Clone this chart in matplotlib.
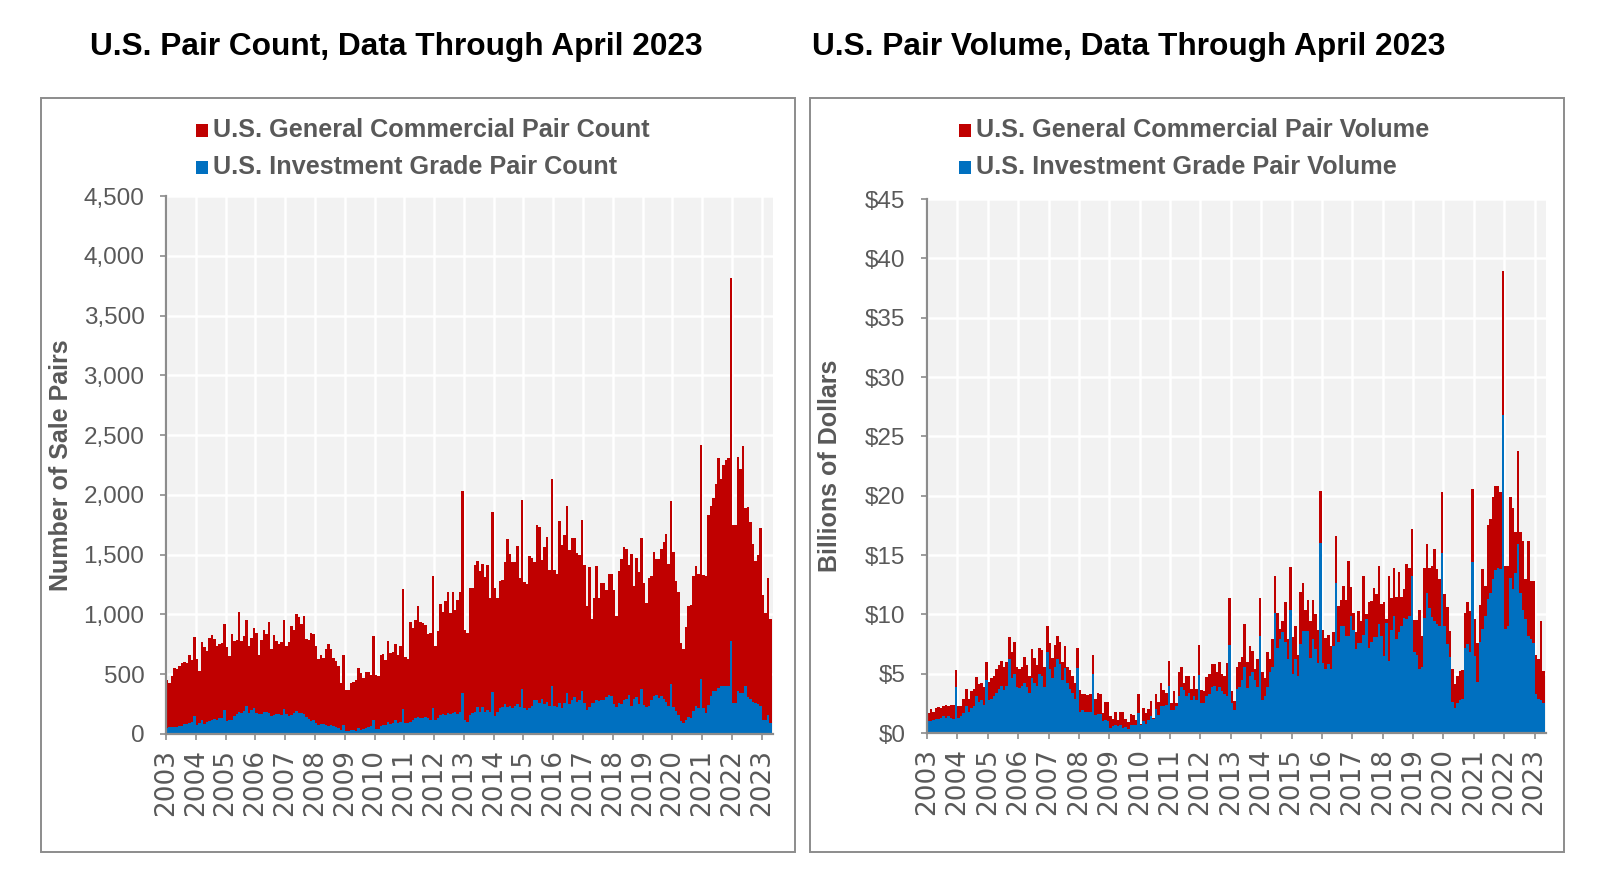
import numpy as np
import matplotlib
matplotlib.use("Agg")
import matplotlib.pyplot as plt
from matplotlib.patches import Rectangle
from matplotlib.ticker import FuncFormatter, MultipleLocator, FixedLocator

plt.rcParams['font.family'] = ['Liberation Sans', 'DejaVu Sans']

# ---------------- data (monthly, Jan 2003 .. Apr 2023) ----------------
years = list(range(2003, 2024))

gc_count = [
    449, 427, 483, 550, 544, 566, 594, 605, 594, 661, 622, 812,      # 2003
    628, 524, 773, 728, 695, 806, 829, 795, 734, 751, 762, 923,      # 2004
    728, 656, 834, 778, 790, 1024, 778, 823, 957, 739, 806, 890,     # 2005
    845, 661, 790, 873, 834, 940, 711, 829, 778, 756, 773, 957,      # 2006
    734, 767, 907, 873, 1002, 979, 918, 990, 795, 790, 845, 840,     # 2007
    734, 628, 661, 633, 711, 751, 711, 633, 611, 566, 427, 661,      # 2008
    365, 365, 427, 432, 449, 555, 511, 466, 522, 516, 494, 817,      # 2009
    494, 488, 661, 672, 622, 778, 678, 689, 756, 661, 734, 1214,     # 2010
    644, 628, 935, 884, 957, 1069, 935, 929, 912, 834, 845, 1325,    # 2011
    734, 862, 1085, 1024, 1113, 1186, 1013, 1186, 1035, 1124, 1186, 2034,  # 2012
    873, 845, 1219, 1219, 1417, 1445, 1361, 1423, 1311, 1415, 1141, 1861,  # 2013
    1219, 1136, 1281, 1286, 1437, 1632, 1504, 1442, 1442, 1576, 1309, 1961,  # 2014
    1275, 1258, 1493, 1476, 1442, 1749, 1733, 1459, 1560, 1649, 1375, 2129,  # 2015
    1370, 1342, 1783, 1582, 1666, 1906, 1537, 1638, 1643, 1515, 1498, 1794,  # 2016
    1417, 1074, 1398, 963, 1136, 1403, 1136, 1264, 1264, 1202, 1336, 1342,   # 2017
    1208, 990, 1364, 1465, 1565, 1548, 1414, 1509, 1236, 1476, 1353, 1638,   # 2018
    1264, 1096, 1308, 1325, 1526, 1465, 1465, 1548, 1604, 1671, 1420, 1945,  # 2019
    1526, 1281, 1191, 762, 711, 896, 1074, 1080, 1325, 1403, 1336, 2419,     # 2020
    1331, 1320, 1833, 1906, 1978, 2090, 2307, 2129, 2252, 2290, 2307, 3814,  # 2021
    1744, 1749, 2318, 2218, 2408, 1894, 1900, 1772, 1588, 1448, 1500, 1721,  # 2022
    1160, 1010, 1303, 963,                                                   # 2023
]

ig_count = [
    50, 56, 56, 58, 60, 64, 70, 86, 80, 92, 98, 153,
    78, 92, 120, 87, 98, 109, 120, 126, 115, 131, 137, 198,
    109, 114, 114, 148, 170, 181, 176, 190, 231, 176, 204, 220,
    176, 165, 170, 184, 181, 176, 148, 162, 165, 170, 159, 209,
    165, 148, 159, 176, 193, 176, 176, 170, 142, 126, 109, 114,
    92, 78, 81, 84, 78, 70, 75, 64, 59, 50, 36, 75,
    28, 25, 31, 31, 28, 47, 36, 42, 53, 59, 64, 120,
    42, 42, 64, 75, 78, 98, 86, 92, 114, 92, 103, 209,
    92, 92, 103, 120, 137, 142, 137, 134, 142, 134, 120, 218,
    114, 134, 159, 170, 162, 176, 165, 176, 181, 170, 187, 343,
    114, 98, 159, 176, 187, 226, 181, 226, 187, 198, 187, 349,
    153, 187, 215, 226, 254, 226, 237, 220, 237, 254, 226, 377,
    215, 198, 220, 232, 287, 282, 260, 293, 248, 271, 237, 405,
    232, 226, 260, 215, 260, 343, 254, 282, 310, 271, 287, 360,
    260, 198, 226, 260, 260, 287, 276, 287, 287, 310, 326, 315,
    248, 226, 259, 248, 282, 293, 326, 232, 293, 310, 254, 377,
    243, 226, 237, 287, 315, 326, 298, 315, 293, 271, 232, 416,
    226, 193, 159, 109, 92, 120, 142, 137, 193, 237, 215, 460,
    218, 176, 246, 315, 357, 360, 385, 399, 405, 400, 400, 776,
    259, 259, 357, 340, 340, 405, 310, 290, 270, 260, 250, 232,
    120, 120, 162, 92,
]

gc_volume = [
    1.7, 2.0, 1.8, 2.1, 2.2, 2.1, 2.3, 2.4, 2.3, 2.4, 2.4, 5.3,
    2.3, 2.3, 2.9, 3.7, 2.9, 3.5, 3.7, 4.7, 4.1, 4.2, 3.9, 6.0,
    4.3, 4.6, 4.8, 5.4, 5.7, 6.1, 5.6, 6.0, 8.1, 6.8, 7.7, 5.6,
    5.4, 5.6, 6.4, 5.7, 4.8, 7.1, 6.3, 5.7, 7.2, 7.0, 5.6, 9.0,
    7.6, 6.3, 7.4, 8.2, 7.7, 6.0, 7.3, 5.6, 5.35, 4.8, 4.2, 7.2,
    3.6, 3.3, 3.3, 3.2, 3.3, 6.6, 2.9, 3.4, 3.3, 1.7, 2.6, 2.6,
    1.4, 1.2, 1.75, 1.1, 1.8, 1.8, 1.2, 0.9, 1.6, 1.5, 1.1, 3.3,
    0.8, 2.1, 1.7, 2.0, 2.7, 1.3, 3.3, 2.6, 4.2, 3.6, 3.4, 6.1,
    2.5, 3.5, 2.5, 5.1, 5.6, 4.2, 4.8, 4.8, 3.7, 4.8, 3.7, 7.4,
    3.6, 3.5, 4.7, 5.0, 5.8, 5.8, 5.1, 6.0, 5.0, 4.8, 5.9, 11.4,
    3.5, 2.7, 5.6, 6.0, 6.4, 9.2, 6.0, 7.3, 6.9, 5.4, 6.2, 11.4,
    5.1, 4.6, 6.8, 6.2, 7.9, 13.2, 10.1, 8.8, 9.4, 11.0, 7.9, 14.0,
    8.1, 9.0, 6.6, 11.9, 12.6, 10.4, 11.2, 9.4, 11.2, 10.0, 8.7, 20.4,
    8.7, 8.0, 8.3, 7.3, 8.5, 16.6, 10.7, 11.2, 12.4, 11.2, 14.5, 12.3,
    10.1, 8.5, 10.3, 9.4, 13.2, 10.0, 11.0, 11.1, 12.2, 11.7, 14.1, 10.9,
    11.0, 9.6, 13.2, 11.4, 13.9, 11.5, 13.6, 11.5, 12.1, 14.2, 13.9, 17.2,
    9.5, 9.5, 10.4, 8.2, 13.9, 15.9, 13.9, 14.1, 15.5, 13.8, 13.0, 20.3,
    11.7, 10.6, 8.6, 5.4, 4.1, 4.8, 5.2, 5.3, 10.1, 11.0, 10.3, 20.6,
    9.6, 7.6, 10.8, 13.8, 12.4, 17.5, 18.0, 19.9, 20.8, 20.8, 20.3, 38.9,
    14.1, 14.1, 19.9, 19.0, 16.9, 23.8, 16.9, 16.2, 13.0, 16.2, 12.8, 12.8,
    6.6, 6.2, 9.4, 5.2,
]

ig_volume = [
    1.0, 1.0, 1.1, 1.2, 1.2, 1.3, 1.4, 1.3, 1.4, 1.3, 1.2, 3.9,
    1.3, 1.4, 1.7, 2.3, 1.8, 2.1, 2.3, 3.1, 2.6, 2.8, 2.4, 4.5,
    2.8, 2.9, 3.1, 3.4, 3.7, 4.0, 3.6, 4.0, 6.2, 4.6, 5.0, 3.9,
    3.8, 4.0, 4.2, 3.9, 3.4, 4.6, 4.2, 4.0, 5.0, 4.8, 3.9, 6.8,
    5.4, 4.6, 5.6, 6.2, 5.8, 4.5, 5.5, 4.2, 3.7, 3.4, 2.9, 5.5,
    1.8, 1.9, 1.8, 1.8, 1.8, 5.0, 1.5, 1.6, 1.6, 1.0, 1.1, 1.0,
    0.4, 0.6, 0.7, 0.6, 0.7, 0.4, 0.5, 0.3, 0.7, 0.7, 0.7, 1.7,
    0.7, 1.0, 0.8, 1.1, 1.4, 1.2, 2.0, 1.5, 2.25, 2.25, 2.4, 4.0,
    1.9, 1.9, 2.25, 3.1, 3.9, 3.6, 3.1, 3.4, 2.8, 3.1, 2.8, 4.9,
    2.5, 2.5, 3.1, 3.3, 3.9, 4.0, 3.5, 3.9, 3.5, 3.3, 3.1, 7.4,
    2.5, 1.9, 3.7, 3.9, 4.5, 5.6, 3.8, 4.8, 5.1, 4.5, 3.9, 8.2,
    2.8, 3.1, 3.9, 5.1, 5.6, 10.1, 7.2, 7.9, 8.5, 7.7, 6.2, 10.4,
    5.0, 6.2, 4.8, 7.5, 8.6, 8.6, 8.6, 6.3, 7.9, 7.1, 5.9, 16.0,
    5.9, 5.4, 5.8, 5.4, 7.3, 12.6, 7.7, 9.0, 9.0, 8.2, 8.2, 9.9,
    8.7, 7.1, 7.6, 7.6, 8.3, 9.6, 7.2, 7.7, 8.1, 8.1, 9.2, 8.2,
    6.5, 9.3, 6.1, 8.7, 9.9, 7.9, 8.5, 9.0, 9.7, 9.6, 9.9, 13.2,
    6.8, 6.6, 5.4, 5.6, 9.7, 11.8, 10.5, 9.8, 9.4, 9.2, 9.0, 15.2,
    9.0, 7.5, 6.4, 2.6, 2.1, 2.5, 2.8, 2.9, 7.2, 7.5, 6.8, 14.4,
    6.5, 4.3, 7.7, 8.8, 9.9, 11.3, 11.8, 13.0, 13.7, 13.9, 13.8, 26.8,
    8.8, 9.0, 13.1, 12.1, 13.5, 15.9, 11.8, 10.4, 9.6, 8.2, 7.9, 7.6,
    3.3, 2.9, 2.8, 2.5,
]

RED = '#C00000'
BLUE = '#0070C0'
GRAY_TXT = '#595959'
BG = '#F2F2F2'
SPINE = '#8C8C8C'

fig = plt.figure(figsize=(16, 8.89), dpi=100)
W, H = 1600.0, 889.0


def fx(px):
    return px / W


def fy(py):
    return 1 - py / H


# outer boxes
for x0, x1 in [(41, 795), (810, 1564)]:
    fig.patches.append(Rectangle((fx(x0), fy(852)), (x1 - x0) / W, (852 - 98) / H,
                                 transform=fig.transFigure, fill=False,
                                 edgecolor='#8C8C8C', linewidth=1.4))


def make_axes(rect, gc, ig, ymax, ystep, fmt):
    ax = fig.add_axes(rect)
    ax.set_facecolor(BG)
    n = len(gc)
    edges = np.arange(n + 1)
    ax.stairs(gc, edges, baseline=0, fill=True, color=RED, linewidth=0, zorder=2)
    ax.stairs(ig, edges, baseline=0, fill=True, color=BLUE, linewidth=0, zorder=3)
    ax.set_xlim(0, n + 0.5)
    ax.set_ylim(0, ymax)
    ax.yaxis.set_major_locator(MultipleLocator(ystep))
    ax.yaxis.set_major_formatter(FuncFormatter(fmt))
    xt = [12 * i for i in range(len(years))]
    ax.xaxis.set_major_locator(FixedLocator(xt))
    ax.set_xticklabels([str(y) for y in years], rotation=90,
                       family=['DejaVu Sans'])
    ax.set_axisbelow(True)
    ax.grid(True, color='white', linewidth=1.8, zorder=0)
    for s in ['top', 'right']:
        ax.spines[s].set_visible(False)
    for s in ['left', 'bottom']:
        ax.spines[s].set_color(SPINE)
        ax.spines[s].set_linewidth(1.6)
        ax.spines[s].set_zorder(5)
    ax.tick_params(axis='y', length=4.5, width=1.2, color=SPINE, pad=11,
                   labelsize=17.5, labelcolor=GRAY_TXT)
    ax.tick_params(axis='x', length=4.5, width=1.2, color=SPINE, pad=6,
                   labelsize=19, labelcolor=GRAY_TXT)
    return ax


axL = make_axes([fx(166), fy(734), (773 - 166) / W, (734 - 196) / H],
                gc_count, ig_count, 4500, 500, lambda v, p: f"{int(v):,}")
axR = make_axes([fx(927), fy(733), (1546 - 927) / W, (733 - 199) / H],
                gc_volume, ig_volume, 45, 5, lambda v, p: f"${int(v)}")

# titles
fig.text(fx(90), fy(47), "U.S. Pair Count, Data Through April 2023", fontsize=22.8,
         fontweight='bold', color='black', ha='left', va='center')
fig.text(fx(812), fy(47), "U.S. Pair Volume, Data Through April 2023", fontsize=22.8,
         fontweight='bold', color='black', ha='left', va='center')

# legends
def legend(xsq, xtxt, labels):
    for (lab, col), yc in zip(labels, [130, 167.5]):
        fig.patches.append(Rectangle((fx(xsq), fy(yc + 6.5)), 12 / W, 13 / H,
                                     transform=fig.transFigure, facecolor=col,
                                     edgecolor='none'))
        fig.text(fx(xtxt), fy(yc), lab, fontsize=18.2, fontweight='bold',
                 color=GRAY_TXT, ha='left', va='center')


legend(196, 213, [("U.S. General Commercial Pair Count", RED),
                  ("U.S. Investment Grade Pair Count", BLUE)])
legend(959, 976, [("U.S. General Commercial Pair Volume", RED),
                  ("U.S. Investment Grade Pair Volume", BLUE)])

# y labels
fig.text(fx(61), fy(465), "Number of Sale Pairs", rotation=90, fontsize=18,
         fontweight='bold', color=GRAY_TXT, ha='center', va='center')
fig.text(fx(830), fy(466), "Billions of Dollars", rotation=90, fontsize=18,
         fontweight='bold', color=GRAY_TXT, ha='center', va='center')

fig.savefig("out.png", dpi=100)
